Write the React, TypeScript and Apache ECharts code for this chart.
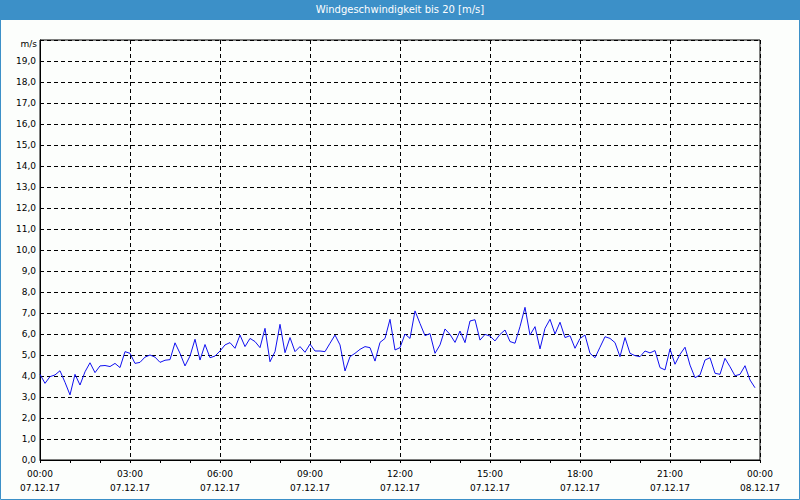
import React, { useEffect, useRef } from "react";
import * as echarts from "echarts";

const chartTitle = "Windgeschwindigkeit bis 20 [m/s]";
const unitLabel = "m/s";
const stepMinutes = 10;
const xTickTimes = ["00:00", "03:00", "06:00", "09:00", "12:00", "15:00", "18:00", "21:00", "00:00"];
const xTickDates = ["07.12.17", "07.12.17", "07.12.17", "07.12.17", "07.12.17", "07.12.17", "07.12.17", "07.12.17", "08.12.17"];

// 10-minute wind speed values [m/s], 07.12.17 00:00 .. 23:50
const windSpeed = [
  4.08, 3.65, 3.97, 4.05, 4.25, 3.7, 3.1, 4.08, 3.57, 4.2,
  4.63, 4.16, 4.48, 4.5, 4.45, 4.6, 4.4, 5.16, 5.08, 4.6,
  4.65, 4.9, 5.0, 4.9, 4.65, 4.75, 4.78, 5.58, 5.08, 4.48,
  4.95, 5.75, 4.76, 5.5, 4.87, 4.95, 5.19, 5.48, 5.59, 5.32,
  5.95, 5.4, 5.79, 5.64, 5.35, 6.27, 4.68, 5.16, 6.46, 5.11,
  5.83, 5.16, 5.4, 5.13, 5.52, 5.19, 5.19, 5.16, 5.56, 5.95,
  5.48, 4.24, 4.92, 5.08, 5.27, 5.4, 5.35, 4.71, 5.6, 5.79,
  6.7, 5.24, 5.35, 6.0, 5.79, 7.1, 6.5, 5.92, 6.02, 5.08,
  5.48, 6.24, 5.98, 5.6, 6.14, 5.59, 6.62, 6.68, 5.71, 5.98,
  5.9, 5.67, 5.98, 6.19, 5.64, 5.56, 6.35, 7.27, 5.95, 6.35,
  5.29, 6.27, 6.7, 6.0, 6.56, 5.83, 5.92, 5.32, 5.79, 5.95,
  5.08, 4.87, 5.37, 5.87, 5.79, 5.59, 4.92, 5.83, 5.08, 4.97,
  4.92, 5.19, 5.1, 5.21, 4.4, 4.29, 5.29, 4.56, 5.03, 5.37,
  4.52, 3.92, 4.05, 4.76, 4.87, 4.13, 4.08, 4.84, 4.44, 4.01,
  4.08, 4.49, 3.81, 3.44,
];

const BLUE = "#3c90c8";
const FONT = "DejaVu Sans";

export default function App() {
  const ref = useRef<HTMLDivElement>(null);

  useEffect(() => {
    if (!ref.current) return;
    const chart = echarts.init(ref.current, undefined, { renderer: "svg" });
    const seriesData = windSpeed.map((v, i) => [i * stepMinutes, v]);

    chart.setOption({
      animation: false,
      backgroundColor: "#fcfefc",
      title: {
        text: chartTitle,
        left: "center",
        top: 4,
        padding: 0,
        textStyle: { color: "#ffffff", fontSize: 10, fontWeight: "normal", fontFamily: FONT },
      },
      graphic: [
        {
          type: "rect",
          z: -1,
          shape: { x: 0, y: 0, width: 800, height: 20 },
          style: { fill: BLUE },
          silent: true,
        },
        {
          type: "rect",
          z: 100,
          shape: { x: 0.5, y: 0.5, width: 799, height: 499 },
          style: { fill: "none", stroke: BLUE, lineWidth: 1 },
          silent: true,
        },
        {
          type: "text",
          x: 37,
          y: 44,
          style: {
            text: unitLabel,
            align: "right",
            verticalAlign: "middle",
            fill: "#000",
            font: `9px "${FONT}"`,
          },
        },
      ],
      grid: {
        left: 40,
        right: 40,
        top: 40,
        bottom: 40,
        show: true,
        borderColor: "#000",
        borderWidth: 1,
        backgroundColor: "transparent",
      },
      xAxis: {
        type: "value",
        min: 0,
        max: 1440,
        interval: 180,
        axisLine: { show: true, lineStyle: { color: "#000", width: 1 } },
        axisTick: { show: true, length: 3, lineStyle: { color: "#000" } },
        minorTick: { show: true, splitNumber: 3, length: 3, lineStyle: { color: "#000" } },
        splitLine: { show: true, lineStyle: { color: "#000", type: [4, 3], width: 1 } },
        axisLabel: {
          margin: 7,
          color: "#000",
          fontSize: 9,
          fontFamily: FONT,
          lineHeight: 14,
          formatter: (v: number) => {
            const i = Math.round(v / 180);
            return `${xTickTimes[i]}\n${xTickDates[i]}`;
          },
        },
      },
      yAxis: {
        type: "value",
        min: 0,
        max: 20,
        interval: 1,
        axisLine: { show: true, lineStyle: { color: "#000", width: 1 } },
        axisTick: { show: false },
        splitLine: { show: true, lineStyle: { color: "#000", type: [4, 3], width: 1 } },
        axisLabel: {
          margin: 4,
          color: "#000",
          fontSize: 9,
          fontFamily: FONT,
          formatter: (v: number) => (v >= 20 ? "" : v.toFixed(1).replace(".", ",")),
        },
      },
      series: [
        {
          type: "line",
          data: seriesData,
          showSymbol: false,
          symbol: "none",
          lineStyle: { color: "#1010f0", width: 1 },
        },
      ],
    });

    return () => chart.dispose();
  }, []);

  return (
    <div
      ref={ref}
      style={{ position: "fixed", left: 0, top: 0, width: 800, height: 500 }}
    />
  );
}
